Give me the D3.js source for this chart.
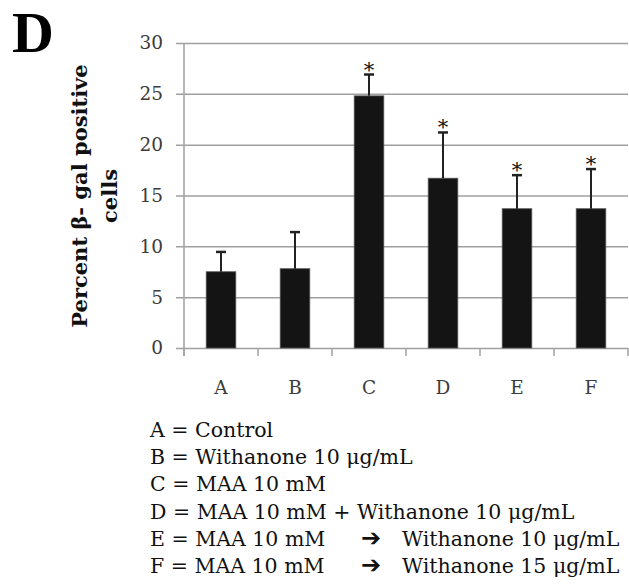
<!DOCTYPE html>
<html>
<head>
<meta charset="utf-8">
<script src="https://cdn.jsdelivr.net/npm/d3@7"></script>
<style>
  body { margin: 0; background: #fff; }
  svg { display: block; }
</style>
</head>
<body>
<div id="chart"></div>
<script>
// Chart data
var categories = ["A", "B", "C", "D", "E", "F"];
var means = [7.5, 7.8, 24.8, 16.7, 13.7, 13.7];
var errors = [1.95, 3.6, 2.1, 4.5, 3.3, 3.9];
var significant = [false, false, true, true, true, true];
var yTicks = [0, 5, 10, 15, 20, 25, 30];

// Legend lines: key, description, and the part after the arrow (if any)
var legendKeys = ["A", "B", "C", "D", "E", "F"];
var legendText = [
    "Control",
    "Withanone 10 μg/mL",
    "MAA 10 mM",
    "MAA 10 mM + Withanone 10 μg/mL",
    "MAA 10 mM",
    "MAA 10 mM"
];
var legendAfterArrow = [null, null, null, null, "Withanone 10 μg/mL", "Withanone 15 μg/mL"];

// Chart Params
var svgWidth = 629;
var svgHeight = 584;

var margin = { top: 43, right: 1, bottom: 236, left: 184 };
var chartWidth = svgWidth - margin.left - margin.right;
var chartHeight = svgHeight - margin.top - margin.bottom;

var serif = "'DejaVu Serif', serif";

var svg = d3.select("#chart")
    .append("svg")
    .attr("width", svgWidth)
    .attr("height", svgHeight);

var chartGroup = svg.append("g")
    .attr("transform", `translate(${margin.left}, ${margin.top})`);

// Scales
var xBandScale = d3.scaleBand()
    .domain(categories)
    .range([0, chartWidth])
    .paddingInner(0.6)
    .paddingOuter(0.3);

var yLinearScale = d3.scaleLinear()
    .domain([0, 30])
    .range([chartHeight, 0]);

// Gridlines (with left tick stubs)
var grid = d3.axisLeft(yLinearScale)
    .tickValues(yTicks)
    .tickSize(-chartWidth - 8)
    .tickFormat("");

chartGroup.append("g")
    .attr("transform", "translate(-8, 0)")
    .call(grid)
    .call(g => g.select(".domain").remove())
    .call(g => g.selectAll("line")
        .attr("stroke", "#a0a0a0")
        .attr("stroke-width", 1.5));

// y tick labels
var leftAxis = d3.axisLeft(yLinearScale)
    .tickValues(yTicks)
    .tickSize(0)
    .tickPadding(21);

chartGroup.append("g")
    .call(leftAxis)
    .call(g => g.select(".domain").remove())
    .call(g => g.selectAll("text")
        .attr("font-family", serif)
        .attr("font-size", 18.5)
        .attr("fill", "#3c3c3c"));

// y axis line
chartGroup.append("line")
    .attr("x1", 0).attr("x2", 0)
    .attr("y1", 0).attr("y2", chartHeight + 8)
    .attr("stroke", "#a0a0a0")
    .attr("stroke-width", 1.5);

// x axis
var xTickPositions = d3.range(categories.length + 1).map(i => i * xBandScale.step());
var xAxis = chartGroup.append("g")
    .attr("transform", `translate(0, ${chartHeight})`);

xAxis.selectAll("line.xt")
    .data(xTickPositions)
    .join("line")
    .attr("class", "xt")
    .attr("x1", d => d).attr("x2", d => d)
    .attr("y1", 0).attr("y2", 8)
    .attr("stroke", "#a0a0a0")
    .attr("stroke-width", 1.5);

xAxis.selectAll("text")
    .data(categories)
    .join("text")
    .attr("x", d => xBandScale(d) + xBandScale.bandwidth() / 2)
    .attr("y", 46)
    .attr("text-anchor", "middle")
    .attr("font-family", serif)
    .attr("font-size", 18.5)
    .attr("fill", "#3c3c3c")
    .text(d => d);

// Bars
var rows = categories.map((c, i) => ({ cat: c, mean: means[i], err: errors[i], sig: significant[i] }));

chartGroup.selectAll("rect.bar")
    .data(rows)
    .join("rect")
    .attr("class", "bar")
    .attr("x", d => xBandScale(d.cat))
    .attr("y", d => yLinearScale(d.mean))
    .attr("width", xBandScale.bandwidth())
    .attr("height", d => chartHeight - yLinearScale(d.mean))
    .attr("fill", "#141414")
    .attr("stroke", "#555")
    .attr("stroke-width", 0.8);

// Error bars (upper only)
var errGroup = chartGroup.selectAll("g.err")
    .data(rows)
    .join("g")
    .attr("class", "err")
    .attr("transform", d => `translate(${xBandScale(d.cat) + xBandScale.bandwidth() / 2}, 0)`);

errGroup.append("line")
    .attr("x1", 0).attr("x2", 0)
    .attr("y1", d => yLinearScale(d.mean))
    .attr("y2", d => yLinearScale(d.mean + d.err))
    .attr("stroke", "#222")
    .attr("stroke-width", 2);

errGroup.append("line")
    .attr("x1", -5).attr("x2", 5)
    .attr("y1", d => yLinearScale(d.mean + d.err))
    .attr("y2", d => yLinearScale(d.mean + d.err))
    .attr("stroke", "#222")
    .attr("stroke-width", 2.5);

// Significance stars
errGroup.filter(d => d.sig)
    .append("text")
    .attr("x", 0)
    .attr("y", d => yLinearScale(d.mean + d.err) + 2)
    .attr("text-anchor", "middle")
    .attr("font-family", serif)
    .attr("font-size", 21)
    .attr("fill", "#111")
    .text("*");

// Y axis title
var yTitle = svg.append("text")
    .attr("transform", "translate(87, 196) rotate(-90)")
    .attr("text-anchor", "middle")
    .attr("font-family", serif)
    .attr("font-weight", "bold")
    .attr("font-size", 21)
    .attr("fill", "#111");
yTitle.append("tspan").attr("x", 0).attr("y", 0).text("Percent β- gal positive");
yTitle.append("tspan").attr("x", 0).attr("y", 30).text("cells");

// Panel letter
svg.append("text")
    .attr("x", 12)
    .attr("y", 52)
    .attr("font-family", "'Liberation Serif', serif")
    .attr("font-weight", "bold")
    .attr("font-size", 58)
    .attr("fill", "#000")
    .text("D");

// Legend
var legendBaselines = [437, 464, 491, 519, 546, 573];
var legend = svg.append("g")
    .attr("font-family", serif)
    .attr("font-size", 20.5)
    .attr("fill", "#111");

legendKeys.forEach((k, i) => {
    var t = legend.append("text")
        .attr("x", 150)
        .attr("y", legendBaselines[i]);
    t.append("tspan").text(k + " = " + legendText[i]);
    if (legendAfterArrow[i]) {
        t.append("tspan")
            .attr("x", 361)
            .attr("font-family", "'DejaVu Sans', sans-serif")
            .attr("font-weight", "bold")
            .attr("font-size", 24)
            .text("➔");
        t.append("tspan")
            .attr("x", 402)
            .text(legendAfterArrow[i]);
    }
});
</script>
</body>
</html>
